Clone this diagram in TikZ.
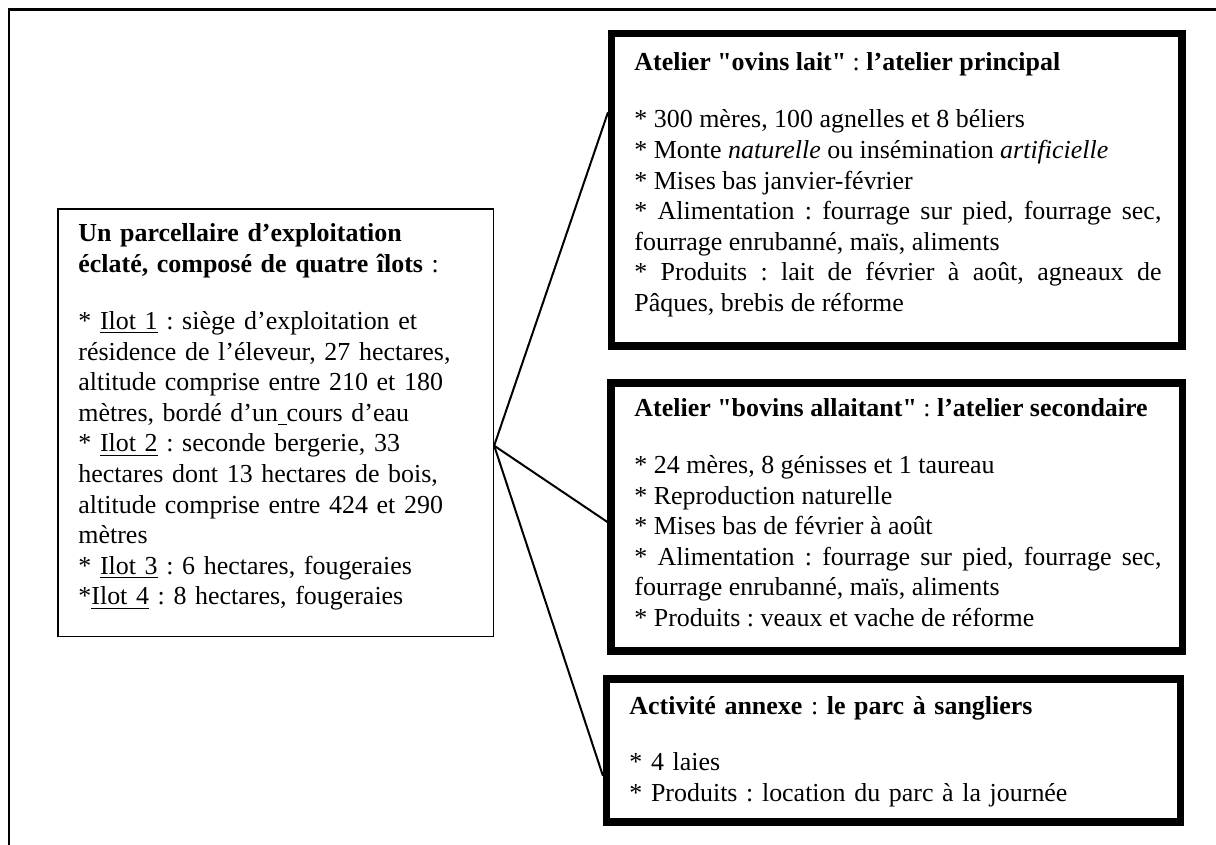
\documentclass[tikz,border=0pt]{standalone}
\usepackage{fontspec}
\setmainfont{Liberation Serif}[Ligatures=TeXOff]
\usepackage{tikz}
\usetikzlibrary{positioning}
\usetikzlibrary{calc}

\newcommand{\souligne}[1]{\underline{#1}}
\def\px{0.451pt}
\frenchspacing

\begin{document}
\begin{tikzpicture}[x=0.451pt,y=-0.451pt,line join=miter]
	\tikzset{
		cadre/.style={draw, line width=3.2pt, inner sep=0pt},
		cadrefin/.style={draw, line width=0.6pt, inner sep=0pt},
		texte/.style={anchor=base west, inner sep=0pt, font=\fontsize{11.7}{13.8}\selectfont},
		lien/.style={line width=0.9pt}
	}
	\useasboundingbox (0,0) rectangle (1216,845);
	
	\draw [line width=1.35pt] (1216,10) -- (9,10) -- (9,845);
	
	\node [cadrefin, minimum width=435.5*\px, minimum height=427.5*\px] (parcel) at (275.75,422.75) {};
	\node [cadre, minimum width=570.5*\px, minimum height=312.5*\px] (ovins) at (896.75,189.75) {};
	\node [cadre, minimum width=571.5*\px, minimum height=268*\px] (bovins) at (896.75,517) {};
	\node [cadre, minimum width=574*\px, minimum height=143*\px] (sangliers) at (893.5,750.5) {};
	
	\node [texte, text width=410*\px, align=left] (parceltxt) at (78,242) {\textbf{Un parcellaire d’exploitation}\\
		\textbf{éclaté, composé de quatre îlots} :\\[11.9pt]
		{*} \souligne{Ilot 1} : siège d’exploitation et\\
		résidence de l’éleveur, 27 hectares,\\
		altitude comprise entre 210 et 180\\
		mètres, bordé d’un\souligne{\ }cours d’eau\\
		{*} \souligne{Ilot 2} : seconde bergerie, 33\\
		hectares dont 13 hectares de bois,\\
		altitude comprise entre 424 et 290\\
		mètres\\
		{*} \souligne{Ilot 3} : 6 hectares, fougeraies\\
		{*}\souligne{Ilot 4} : 8 hectares, fougeraies};
	
	\node [texte, text width=527*\px, align=justify] (ovinstxt) at (634,71) {\mbox{\textbf{Atelier "ovins lait"} : \textbf{l’atelier principal}}\\[11.9pt]
		{*} 300 mères, 100 agnelles et 8 béliers\\
		{*} Monte \textit{naturelle} ou insémination \textit{artificielle}\\
		{*} Mises bas janvier-février\\
		{*} Alimentation : fourrage sur pied, fourrage sec,\linebreak fourrage enrubanné, maïs, aliments\\
		{*} Produits : lait de février à août, agneaux de\linebreak Pâques, brebis de réforme};
	
	\node [texte, text width=527*\px, align=justify] (bovinstxt) at (634,416.5) {\mbox{\textbf{Atelier "bovins allaitant"} : \textbf{l’atelier secondaire}}\\[11.9pt]
		{*} 24 mères, 8 génisses et 1 taureau\\
		{*} Reproduction naturelle\\
		{*} Mises bas de février à août\\
		{*} Alimentation : fourrage sur pied, fourrage sec,\linebreak fourrage enrubanné, maïs, aliments\\
		{*} Produits : veaux et vache de réforme};
	
	\node [texte, text width=527*\px, align=left] (sanglierstxt) at (629,714) {\textbf{Activité annexe} : \textbf{le parc à sangliers}\\[11.9pt]
		{*} 4 laies\\
		{*} Produits : location du parc à la journée};
	
	\coordinate (hub) at (parcel.-6);
	\draw [lien] (hub) -- (ovins.165);
	\draw [lien] (hub) -- (bovins.181);
	\draw [lien] (hub) -- (sangliers.185);
\end{tikzpicture}
\end{document}
